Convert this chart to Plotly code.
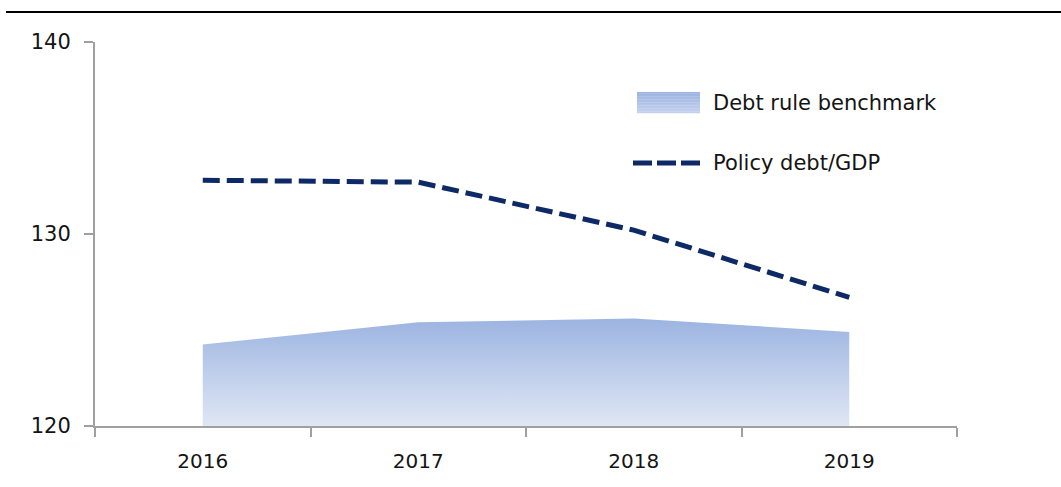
import plotly.graph_objects as go

# Chart data
years = ["2016", "2017", "2018", "2019"]
benchmark = [124.25, 125.4, 125.6, 124.9]      # debt rule benchmark (shaded area)
policy_debt = [132.8, 132.7, 130.2, 126.7]     # policy debt/GDP (dashed line)
y_ticks = [120, 130, 140]

AXIS_GREY = "#a0a0a0"
NAVY = "#0e2a66"
FILL_TOP = "#9cb4e1"
FILL_BOTTOM = "#e0e7f5"
SWATCH_BOTTOM = "#c3d1ee"
FONT = "DejaVu Sans"
TEXT = "#141414"

fig = go.Figure()

fig.add_trace(go.Scatter(
    x=years, y=benchmark, mode="lines", fill="tozeroy",
    line=dict(width=0, color=FILL_TOP),
    fillgradient=dict(type="vertical",
                      colorscale=[[0, FILL_BOTTOM], [1, FILL_TOP]],
                      start=120, stop=max(benchmark)),
    hoverinfo="skip", showlegend=False,
))

fig.add_trace(go.Scatter(
    x=years, y=policy_debt, mode="lines",
    line=dict(color=NAVY, width=5, dash="17px,7px"),
    hoverinfo="skip", showlegend=False,
))

# plot area: x 95..957 px, y 42..426 px
L, R, T, B = 95, 957, 42, 426
W, H = R - L, B - T


def px(x):
    return (x - L) / W


def py(y):
    return (B - y) / H


def hex_rgb(h):
    return tuple(int(h[i:i + 2], 16) for i in (1, 3, 5))


shapes = []
# rule across the top of the page
shapes.append(dict(type="line", xref="paper", yref="paper",
                   x0=px(6), x1=px(1061), y0=py(12), y1=py(12),
                   line=dict(color="black", width=2)))

# legend swatch with a vertical gradient, built from thin bands
n_bands = 14
sw_top, sw_bot = 92, 113
top_rgb, bot_rgb = hex_rgb(FILL_TOP), hex_rgb(SWATCH_BOTTOM)
for i in range(n_bands):
    t = i / (n_bands - 1)
    c = tuple(round(top_rgb[k] * (1 - t) + bot_rgb[k] * t) for k in range(3))
    y0 = sw_top + (sw_bot - sw_top) * i / n_bands
    y1 = sw_top + (sw_bot - sw_top) * (i + 1) / n_bands
    shapes.append(dict(type="rect", xref="paper", yref="paper",
                       x0=px(637), x1=px(700), y0=py(y1 + 0.3), y1=py(y0),
                       fillcolor="rgb(%d,%d,%d)" % c, line=dict(width=0), layer="above"))

# legend dash sample
shapes.append(dict(type="line", xref="paper", yref="paper",
                   x0=px(633), x1=px(700), y0=py(163), y1=py(163),
                   line=dict(color=NAVY, width=5, dash="19px,5px")))

annotations = [
    dict(text="Debt rule benchmark", xref="paper", yref="paper",
         x=px(711), y=py(103), xanchor="left", yanchor="middle", showarrow=False,
         font=dict(family=FONT, size=21, color=TEXT)),
    dict(text="Policy debt/GDP", xref="paper", yref="paper",
         x=px(711), y=py(163), xanchor="left", yanchor="middle", showarrow=False,
         font=dict(family=FONT, size=21, color=TEXT)),
]

fig.update_layout(
    width=1061, height=487,
    margin=dict(l=L, r=1061 - R, t=T, b=487 - B),
    paper_bgcolor="white", plot_bgcolor="white",
    shapes=shapes, annotations=annotations,
    font=dict(family=FONT, size=20, color=TEXT),
    xaxis=dict(
        type="category", range=[-0.5, 3.5], tickson="boundaries",
        showgrid=False, zeroline=False,
        showline=True, linecolor=AXIS_GREY, linewidth=2,
        ticks="outside", ticklen=9, tickwidth=2, tickcolor=AXIS_GREY,
        tickfont=dict(family=FONT, size=20, color=TEXT),
        ticklabelstandoff=16,
    ),
    yaxis=dict(
        range=[120, 140], tickvals=y_ticks,
        showgrid=False, zeroline=False,
        showline=True, linecolor=AXIS_GREY, linewidth=2,
        ticks="outside", ticklen=9, tickwidth=2, tickcolor=AXIS_GREY,
        tickfont=dict(family=FONT, size=21, color=TEXT),
        ticklabelstandoff=9,
    ),
)

fig.write_html("out.html")
